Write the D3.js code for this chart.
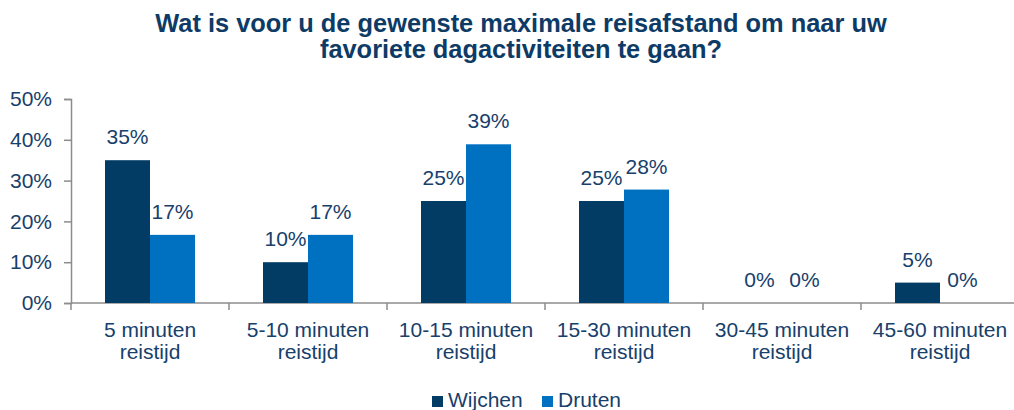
<!DOCTYPE html>
<html>
<head>
  <meta charset="utf-8">
  <title>Reisafstand dagactiviteiten</title>
  <style>
    body { margin: 0; background: #fff; }
    text { font-family: "Liberation Sans", Arial, sans-serif; }
  </style>
</head>
<body>
  <script src="https://d3js.org/d3.v7.min.js"></script>
  <script>
    var categories = ["5 minuten|reistijd", "5-10 minuten|reistijd", "10-15 minuten|reistijd",
                      "15-30 minuten|reistijd", "30-45 minuten|reistijd", "45-60 minuten|reistijd"];
    var seriesNames = ["Wijchen", "Druten"];
    var wijchen = [0.35, 0.10, 0.25, 0.25, 0.00, 0.05];
    var druten = [0.167, 0.167, 0.389, 0.278, 0.00, 0.00];
    var yTicks = [0, 0.1, 0.2, 0.3, 0.4, 0.5];
    var colors = ["#023c64", "#0070c0"];
    var textColor = "#17406b";

    var width = 1014, height = 410;
    var plotLeft = 71, plotRight = 1019, plotTop = 99, plotBottom = 303;

    var svg = d3.select("body").append("svg")
      .attr("width", width).attr("height", height);

    // titel
    var title = svg.append("text")
      .attr("x", 521).attr("text-anchor", "middle")
      .attr("fill", "#0d3b66").style("font-weight", "bold").style("font-size", "25.4px");
    title.append("tspan").attr("x", 521).attr("y", 32)
      .text("Wat is voor u de gewenste maximale reisafstand om naar uw");
    title.append("tspan").attr("x", 521).attr("y", 58)
      .text("favoriete dagactiviteiten te gaan?");

    var x = d3.scaleBand().domain(categories).range([plotLeft, plotRight]);
    var x1 = d3.scaleBand().domain(seriesNames).range([0, 90]);
    var y = d3.scaleLinear().domain([0, 0.5]).range([plotBottom, plotTop]);

    var data = categories.map(function(c, i) {
      return { cat: c, values: [wijchen[i], druten[i]] };
    });

    // y-as
    var yAxis = svg.append("g")
      .attr("transform", "translate(" + plotLeft + ",0)")
      .call(d3.axisLeft(y).tickValues(yTicks).tickFormat(d3.format(".0%")).tickSize(7).tickPadding(12));
    yAxis.select(".domain").attr("stroke", "#8c8c8c").attr("stroke-width", 1.5);
    yAxis.selectAll(".tick line").attr("stroke", "#8c8c8c").attr("stroke-width", 1.5);
    yAxis.selectAll(".tick text").attr("fill", textColor).style("font-size", "21px")
      .style("font-family", "'Liberation Sans', Arial, sans-serif");

    // x-as
    svg.append("line")
      .attr("x1", plotLeft).attr("x2", plotRight).attr("y1", plotBottom).attr("y2", plotBottom)
      .attr("stroke", "#8c8c8c").attr("stroke-width", 1.5);
    svg.selectAll(".xtick")
      .data(categories)
      .enter().append("line")
      .attr("class", "xtick")
      .attr("x1", function(d) { return x(d); })
      .attr("x2", function(d) { return x(d); })
      .attr("y1", plotBottom).attr("y2", plotBottom + 7)
      .attr("stroke", "#8c8c8c").attr("stroke-width", 1.5);

    var catLabel = svg.selectAll(".catlabel")
      .data(categories)
      .enter().append("text")
      .attr("class", "catlabel")
      .attr("text-anchor", "middle")
      .attr("fill", textColor)
      .style("font-size", "21px");
    catLabel.each(function(d) {
      var parts = d.split("|");
      var cx = x(d) + x.bandwidth() / 2;
      d3.select(this).append("tspan").attr("x", cx).attr("y", 337).text(parts[0]);
      d3.select(this).append("tspan").attr("x", cx).attr("y", 359).text(parts[1]);
    });

    // staven
    var groups = svg.selectAll(".group")
      .data(data)
      .enter().append("g")
      .attr("class", "group")
      .attr("transform", function(d) {
        return "translate(" + (x(d.cat) + (x.bandwidth() - 90) / 2) + ",0)";
      });

    groups.selectAll("rect")
      .data(function(d) { return d.values.map(function(v, i) { return { s: seriesNames[i], v: v, i: i }; }); })
      .enter().append("rect")
      .attr("x", function(d) { return x1(d.s); })
      .attr("width", x1.bandwidth())
      .attr("y", function(d) { return y(d.v); })
      .attr("height", function(d) { return plotBottom - y(d.v); })
      .attr("fill", function(d) { return colors[d.i]; });

    groups.selectAll(".vlabel")
      .data(function(d) { return d.values.map(function(v, i) { return { s: seriesNames[i], v: v }; }); })
      .enter().append("text")
      .attr("class", "vlabel")
      .attr("text-anchor", "middle")
      .attr("x", function(d) { return x1(d.s) + x1.bandwidth() / 2; })
      .attr("y", function(d) { return y(d.v) - 16; })
      .attr("fill", textColor)
      .style("font-size", "21px")
      .text(function(d) { return d3.format(".0%")(d.v); });

    // legenda
    var legendX = [432, 542];
    var legend = svg.selectAll(".legend")
      .data(seriesNames)
      .enter().append("g")
      .attr("class", "legend")
      .attr("transform", function(d, i) { return "translate(" + legendX[i] + ",396)"; });
    legend.append("rect")
      .attr("width", 11).attr("height", 11)
      .attr("fill", function(d, i) { return colors[i]; });
    legend.append("text")
      .attr("x", 16).attr("y", 11)
      .attr("fill", textColor)
      .style("font-size", "21px")
      .text(function(d) { return d; });
  </script>
</body>
</html>
